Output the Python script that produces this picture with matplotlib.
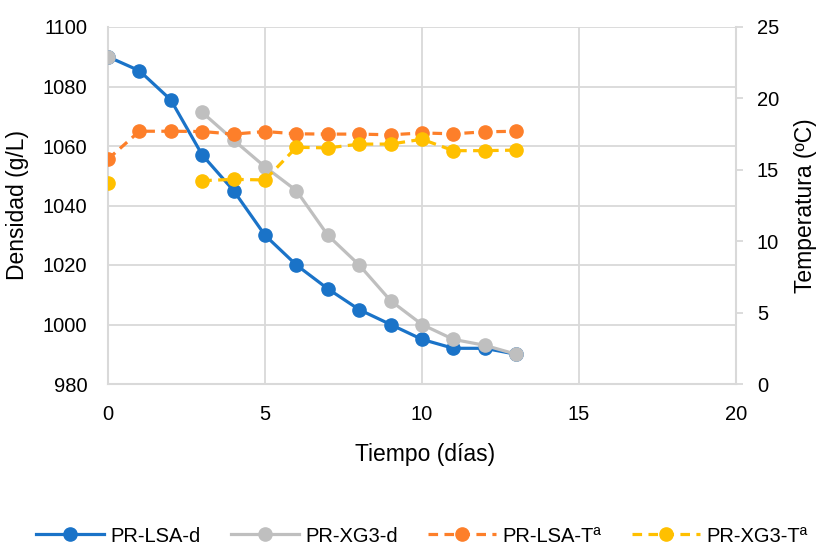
import matplotlib
matplotlib.use("Agg")
import matplotlib.pyplot as plt
import numpy as np

plt.rcParams['font.family'] = ['Liberation Sans', 'DejaVu Sans']

dias = [0, 1, 2, 3, 4, 5, 6, 7, 8, 9, 10, 11, 12, 13]
nan = np.nan

# Densidad (g/L); PR-XG3 sin medidas los días 1 y 2
dens_lsa = [1090, 1085.3, 1075.5, 1057, 1045, 1030, 1020, 1012, 1005, 1000, 995, 992, 992, 990]
dens_xg3 = [1090, nan, nan, 1071.3, 1062, 1053, 1045, 1030, 1020, 1008, 1000, 995, 993, 990]

# Temperatura (ºC)
temp_lsa = [15.75, 17.7, 17.7, 17.68, 17.5, 17.68, 17.52, 17.5, 17.5, 17.45, 17.58, 17.52, 17.66, 17.7]
temp_xg3 = [14.05, nan, nan, 14.24, 14.33, 14.29, 16.58, 16.53, 16.8, 16.8, 17.14, 16.34, 16.34, 16.38]

c_blue = '#1a73c8'
c_gray = '#bfbfbf'
c_orange = '#fd7f2a'
c_yellow = '#ffc000'
grid_c = '#d9d9d9'
fs_tick = 14.5
fs_title = 16.5

fig = plt.figure(figsize=(8.19, 5.47), dpi=100)
ax = fig.add_axes([108 / 819, 1 - 384 / 547, (736 - 108) / 819, (384 - 27) / 547])
ax2 = ax.twinx()

ax.set_xlim(0, 20)
ax.set_ylim(980, 1100)
ax2.set_ylim(0, 25)
ax.set_xticks([0, 5, 10, 15, 20])
ax.set_yticks(range(980, 1101, 20))
ax2.set_yticks(range(0, 26, 5))

ax.grid(True, color=grid_c, lw=1.3)
ax.set_axisbelow(True)

for a in (ax, ax2):
    for s in a.spines.values():
        s.set_visible(False)
for side in ('left', 'bottom'):
    ax.spines[side].set_visible(True)
    ax.spines[side].set_color(grid_c)
    ax.spines[side].set_linewidth(1.5)
ax2.spines['right'].set_visible(True)
ax2.spines['right'].set_color(grid_c)
ax2.spines['right'].set_linewidth(1.5)

ax.tick_params(axis='both', length=0, labelsize=fs_tick, colors='black')
ax.tick_params(axis='y', pad=15)
ax.tick_params(axis='x', pad=15)
ax2.tick_params(axis='y', length=5, width=1.3, color=grid_c, labelsize=fs_tick, pad=10)

lw = 2.3
ms = 9.5
h1, = ax.plot(dias, dens_lsa, '-o', color=c_blue, lw=lw, ms=ms, zorder=3)
h2, = ax.plot(dias, dens_xg3, '-o', color=c_gray, lw=lw, ms=ms, zorder=4)
h3, = ax2.plot(dias, temp_lsa, '--o', color=c_orange, lw=lw, ms=ms, dashes=(3, 2), zorder=3)
h4, = ax2.plot(dias, temp_xg3, '--o', color=c_yellow, lw=lw, ms=ms, dashes=(3, 2), zorder=3)

ax.set_xlabel('Tiempo (días)', fontsize=fs_title)
ax.xaxis.set_label_coords(0.505, -0.165)
ax.set_ylabel('Densidad (g/L)', fontsize=fs_title)
ax.yaxis.set_label_coords(-0.125, 0.5)
ax2.set_ylabel('Temperatura (ºC)', fontsize=fs_title)
ax2.yaxis.set_label_coords(1.093, 0.5)

fig.legend([h1, h2, h3, h4], ['PR-LSA-d', 'PR-XG3-d', 'PR-LSA-Tª', 'PR-XG3-Tª'],
           loc='center', bbox_to_anchor=(0.5147, 1 - 536 / 547), ncol=4, frameon=False,
           fontsize=fs_tick, handlelength=3.4, handletextpad=0.3, columnspacing=1.5,
           borderpad=0)

fig.savefig('out.png', dpi=100)
